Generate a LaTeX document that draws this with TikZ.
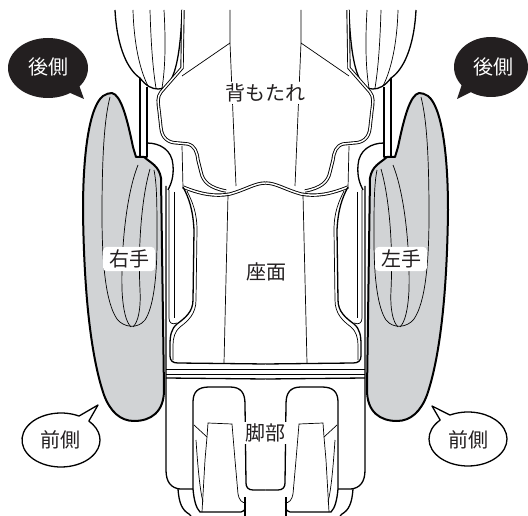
\documentclass[tikz,border=0pt]{standalone}
\usepackage{fontspec}
\newfontfamily\jpfont{Noto Sans CJK JP}
\definecolor{armgray}{RGB}{209,211,213}
\definecolor{ink}{RGB}{35,31,32}

\newcommand{\chairhalf}{%
  \draw[mid] (115,10) .. controls (117,48) and (128,70) .. (140,78)
    .. controls (146,86) and (152,89) .. (158,89)
    .. controls (163,89) and (166,87) .. (169,83)
    .. controls (177,72) and (181,45) .. (182,10);
  \draw[fine] (133,10) .. controls (134,45) and (140,70) .. (148,86);
  \draw[fine] (150,10) .. controls (151,45) and (153,70) .. (156,88);
  \draw[fine] (164,10) .. controls (166,45) and (165,70) .. (162,88);
  \draw[mid] (140,78) -- (140,157) -- (147,157) -- (147,87);
  \draw[mid] (147,143) .. controls (160,143) and (172,150) .. (173,165)
    .. controls (174,177) and (171,184) .. (168,190);
  \draw[rim] (183,10) -- (182,68) -- (161,92) .. controls (157,97) and (158,103) .. (159,110)
    -- (161,128) .. controls (162,138) and (168,143) .. (178,143) -- (188,144)
    .. controls (195,146) and (197,152) .. (198,160) -- (201,172)
    .. controls (203,182) and (210,188) .. (226,191);
  \draw[fine] (182,76) -- (230,43);
  \draw[fine] (230,10) -- (230,43) -- (236,186);
  \draw[fine] (182,146) -- (183,188);
  \filldraw[fill=armgray, heavy] (112,93) .. controls (121,95) and (127,118) .. (133,147)
    -- (136,157) -- (144,157) .. controls (151,163) and (159,166) .. (161,178)
    -- (164,390) .. controls (164,412) and (151,421) .. (134,421)
    .. controls (120,421) and (110,411) .. (104,395)
    .. controls (92,360) and (84,300) .. (83,210)
    .. controls (83,150) and (90,106) .. (103,96)
    .. controls (106,94) and (109,93) .. (112,93) -- cycle;
  \draw[fine] (110,97) .. controls (104,120) and (102,160) .. (102,215)
    .. controls (102,265) and (106,303) .. (117,319)
    .. controls (124,328) and (138,329) .. (145,320)
    .. controls (153,308) and (157,280) .. (157,240)
    .. controls (157,205) and (157,185) .. (154,170);
  \draw[fine] (138,165) .. controls (126,195) and (121,250) .. (122,290)
    .. controls (123,310) and (126,322) .. (131,327);
  \draw[fine] (150,169) .. controls (141,200) and (138,250) .. (140,290)
    .. controls (141,310) and (138,322) .. (133,327);
  \draw[mid] (166,186) -- (166,470) .. controls (166,482) and (171,488) .. (180,489) -- (193,489);
  \draw[fine] (169,190) -- (169,318) .. controls (169,323) and (172,325) .. (177,323);
  \draw[fine] (174,192) -- (174,318);
  \draw[rim] (183,187) .. controls (200,194) and (215,197) .. (230,194)
    .. controls (245,190) and (255,183) .. (265.5,183);
  \draw[mid] (183,187) .. controls (189,198) and (193,210) .. (194,230) -- (193,300)
    .. controls (193,312) and (185,318) .. (177,324)
    .. controls (171,329) and (170,336) .. (170,345) -- (170,356)
    .. controls (170,361) and (173,363) .. (178,363) -- (265.5,364);
  \draw[fine] (187,191) .. controls (192,201) and (197,212) .. (197,230) -- (196,300)
    .. controls (196,314) and (188,321) .. (180,327)
    .. controls (175,331) and (173,338) .. (173,345) -- (173,360);
  \draw[fine] (228,195) -- (224,363);
  \foreach \y in {369,374} {
    \draw[fine] (166,\y) -- (265.5,\y);
  }
  \draw[mid] (166,378) -- (265.5,379);
  \draw[mid] (178,489) .. controls (179,503) and (182,510) .. (189,514) -- (191,516);
  \draw[mid] (193,489) -- (193,402) .. controls (193,392) and (198,387) .. (209,387) -- (230,387)
    .. controls (241,387) and (245,393) .. (245,404) -- (246,483)
    .. controls (246,487) and (248,490) .. (253,490) -- (265.5,490);
  \draw[mid] (193,489) .. controls (194,500) and (196,508) .. (200,512) -- (241,512)
    .. controls (244,512) and (245,510) .. (245,506) -- (245,497);
  \draw[mid] (245,497) -- (245,516);
  \draw[fine] (202,512) -- (205,460) -- (207,437) -- (208,423) -- (232,424) -- (235,460)
    -- (238,494) .. controls (239,500) and (242,503) .. (246,503);
  \draw[fine] (194,425) -- (207,437);
  \draw[fine] (196,440) .. controls (198,470) and (200,490) .. (203,502);
}

\begin{document}
\begin{tikzpicture}[x=1pt, y=-1pt,
  heavy/.style={line width=2pt, line join=round},
  mid/.style={line width=1.3pt, line join=round},
  fine/.style={line width=0.7pt},
  rim/.style={double, line width=0.9pt, double distance=1.5pt},
  lab/.style={font=\jpfont\fontsize{20}{20}\selectfont, text=ink, inner sep=2pt},
  tag/.style={lab, fill=white, rounded corners=4pt, inner xsep=6pt, inner ysep=3pt}]
  \useasboundingbox (0,0) rectangle (528,516);
  \chairhalf
  \begin{scope}[shift={(531,0)}, xscale=-1]
    \chairhalf
  \end{scope}
  \node[lab, fill=white] (back) at (265,93) {背もたれ};
  \node[lab] (seat) at (266,272) {座面};
  \node[lab, fill=white] (legs) at (265,433) {脚部};
  \node[tag] (handR) at (129,259) {右手};
  \node[tag] (handL) at (401,259) {左手};
  \fill[ink] (48,68) ellipse [x radius=40pt, y radius=30pt];
  \fill[ink] (68,92) -- (84,99) -- (79,85) -- cycle;
  \node[lab, text=white] (rearR) at (48,67) {後側};
  \fill[ink] (491,67) ellipse [x radius=37pt, y radius=30pt];
  \fill[ink] (473,91) -- (457,99) -- (462,84) -- cycle;
  \node[lab, text=white] (rearL) at (493,67) {後側};
  \filldraw[fill=white, mid] ([shift={(61,440)}] -62.5:39 and 27)
    arc[start angle=-62.5, end angle=-404.5, x radius=39, y radius=27] -- (98,405) -- cycle;
  \node[lab] (frontR) at (61,440) {前側};
  \filldraw[fill=white, mid] ([shift={(468,439)}] -135.5:39 and 27)
    arc[start angle=-135.5, end angle=-477.5, x radius=39, y radius=27] -- (432,406) -- cycle;
  \node[lab] (frontL) at (468,440) {前側};
\end{tikzpicture}
\end{document}
